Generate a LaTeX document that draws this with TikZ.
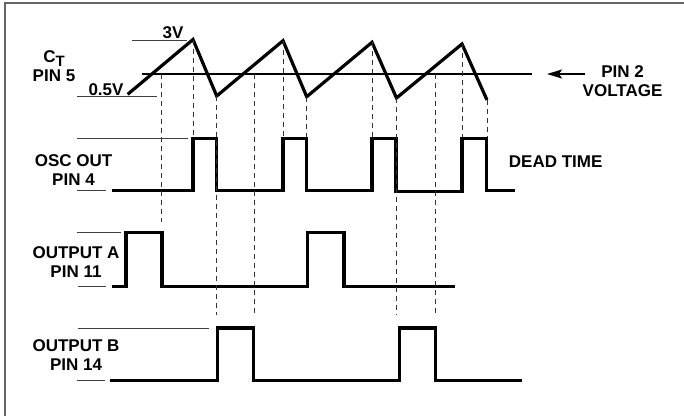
\documentclass[tikz,border=0pt]{standalone}
\usepackage{fontspec}
\setmainfont{Liberation Sans}
\usetikzlibrary{arrows.meta}

\begin{document}
\begin{tikzpicture}[x=1pt,y=-1pt,
	wave/.style={line width=3.2pt,line join=miter},
	tick/.style={line width=1pt,black!75},
	cut/.style={line width=0.9pt,black!80,dash pattern=on 5pt off 4pt},
	lbl/.style={font=\fontsize{17}{19}\selectfont\bfseries,align=center,inner sep=0pt}]
\useasboundingbox (0,0) rectangle (684,416);
\draw[black!60,line width=1.3pt] (684,3) -- (5,3) -- (5,416);

% ramp on CT
\coordinate (s0) at (127.7,94.3);
\coordinate (p1) at (193,39.5);
\coordinate (v1) at (216.7,96);
\coordinate (p2) at (283,40.7);
\coordinate (v2) at (306.7,96.7);
\coordinate (p3) at (372,42.3);
\coordinate (v3) at (396.5,98);
\coordinate (p4) at (462,44);
\coordinate (e4) at (487,100);
\draw[wave] (s0) -- (p1) -- (v1) -- (p2) -- (v2) -- (p3) -- (v3) -- (p4) -- (e4);

\draw[tick] (131.7,40.7) -- (186.7,40.7);
\draw[tick] (77,96) -- (156.7,96);
\node[lbl] (top) at (173,32.7) {3V};
\node[lbl] (bot) at (106,89.5) {0.5V};
\node[lbl] (ct) at (54,66) {C\raisebox{-4pt}{\fontsize{15}{15}\selectfont T}\\PIN 5};

% pin 2 level
\draw[line width=1.1pt] (141.7,74) -- (532,74);
\node[lbl] (pin2) at (622.5,81) {PIN 2\\VOLTAGE};
\draw[line width=1.6pt,-{Stealth[length=15pt,width=9pt,inset=3pt]}] (585,74) -- (547,74);

% osc out
\draw[tick] (77,138.3) -- (188,138.3);
\draw[tick] (77,190.7) -- (106,190.7);
\node[lbl] (osc) at (73.5,170.3) {OSC OUT\\PIN 4};
\draw[wave] (111.7,190.7) -- (193,190.7) -- (193,138.3) -- (216.7,138.3) -- (216.7,190.7)
	-- (283,190.7) -- (283,138.3) -- (306.5,138.3) -- (306.5,190.7)
	-- (372,190.7) -- (372,138.3) -- (396,138.3) -- (396,191.7)
	-- (462,191.7) -- (462,138.3) -- (486.5,138.3) -- (486.5,190.7) -- (515.3,190.7);
\node[lbl] (dead) at (555.7,162) {DEAD TIME};

% output A
\draw[tick] (76.7,232.3) -- (120.7,232.3);
\draw[tick] (78,286.3) -- (106,286.3);
\node[lbl] (outa) at (76,262) {OUTPUT A\\PIN 11};
\draw[wave] (111.7,286.3) -- (126,286.3) -- (126,232.3) -- (162,232.3) -- (162,286.3)
	-- (307.5,286.3) -- (307.5,232.3) -- (344,232.3) -- (344,286.3) -- (455.3,286.3);

% output B
\draw[tick] (77.7,328) -- (209.3,328);
\draw[tick] (77,380.3) -- (105,380.3);
\node[lbl] (outb) at (76,355.2) {OUTPUT B\\PIN 14};
\draw[wave] (110,380.3) -- (217.3,380.3) -- (217.3,328) -- (253.5,328) -- (253.5,380.3)
	-- (399.3,380.3) -- (399.3,328) -- (435.5,328) -- (435.5,380.3) -- (522,380.3);

% timing cuts
\foreach \c in {p1,v2,p2,p3,p4,e4}
	\draw[cut] (\c) -- (\c |- 0,137);
\foreach \c in {v1,v3}
	\draw[cut] (\c) -- (\c |- 0,315);
\draw[cut] (161,74) -- (161,222);
\draw[cut] (254,74) -- (254,315);
\draw[cut] (435.7,74) -- (435.7,315);
\end{tikzpicture}
\end{document}
